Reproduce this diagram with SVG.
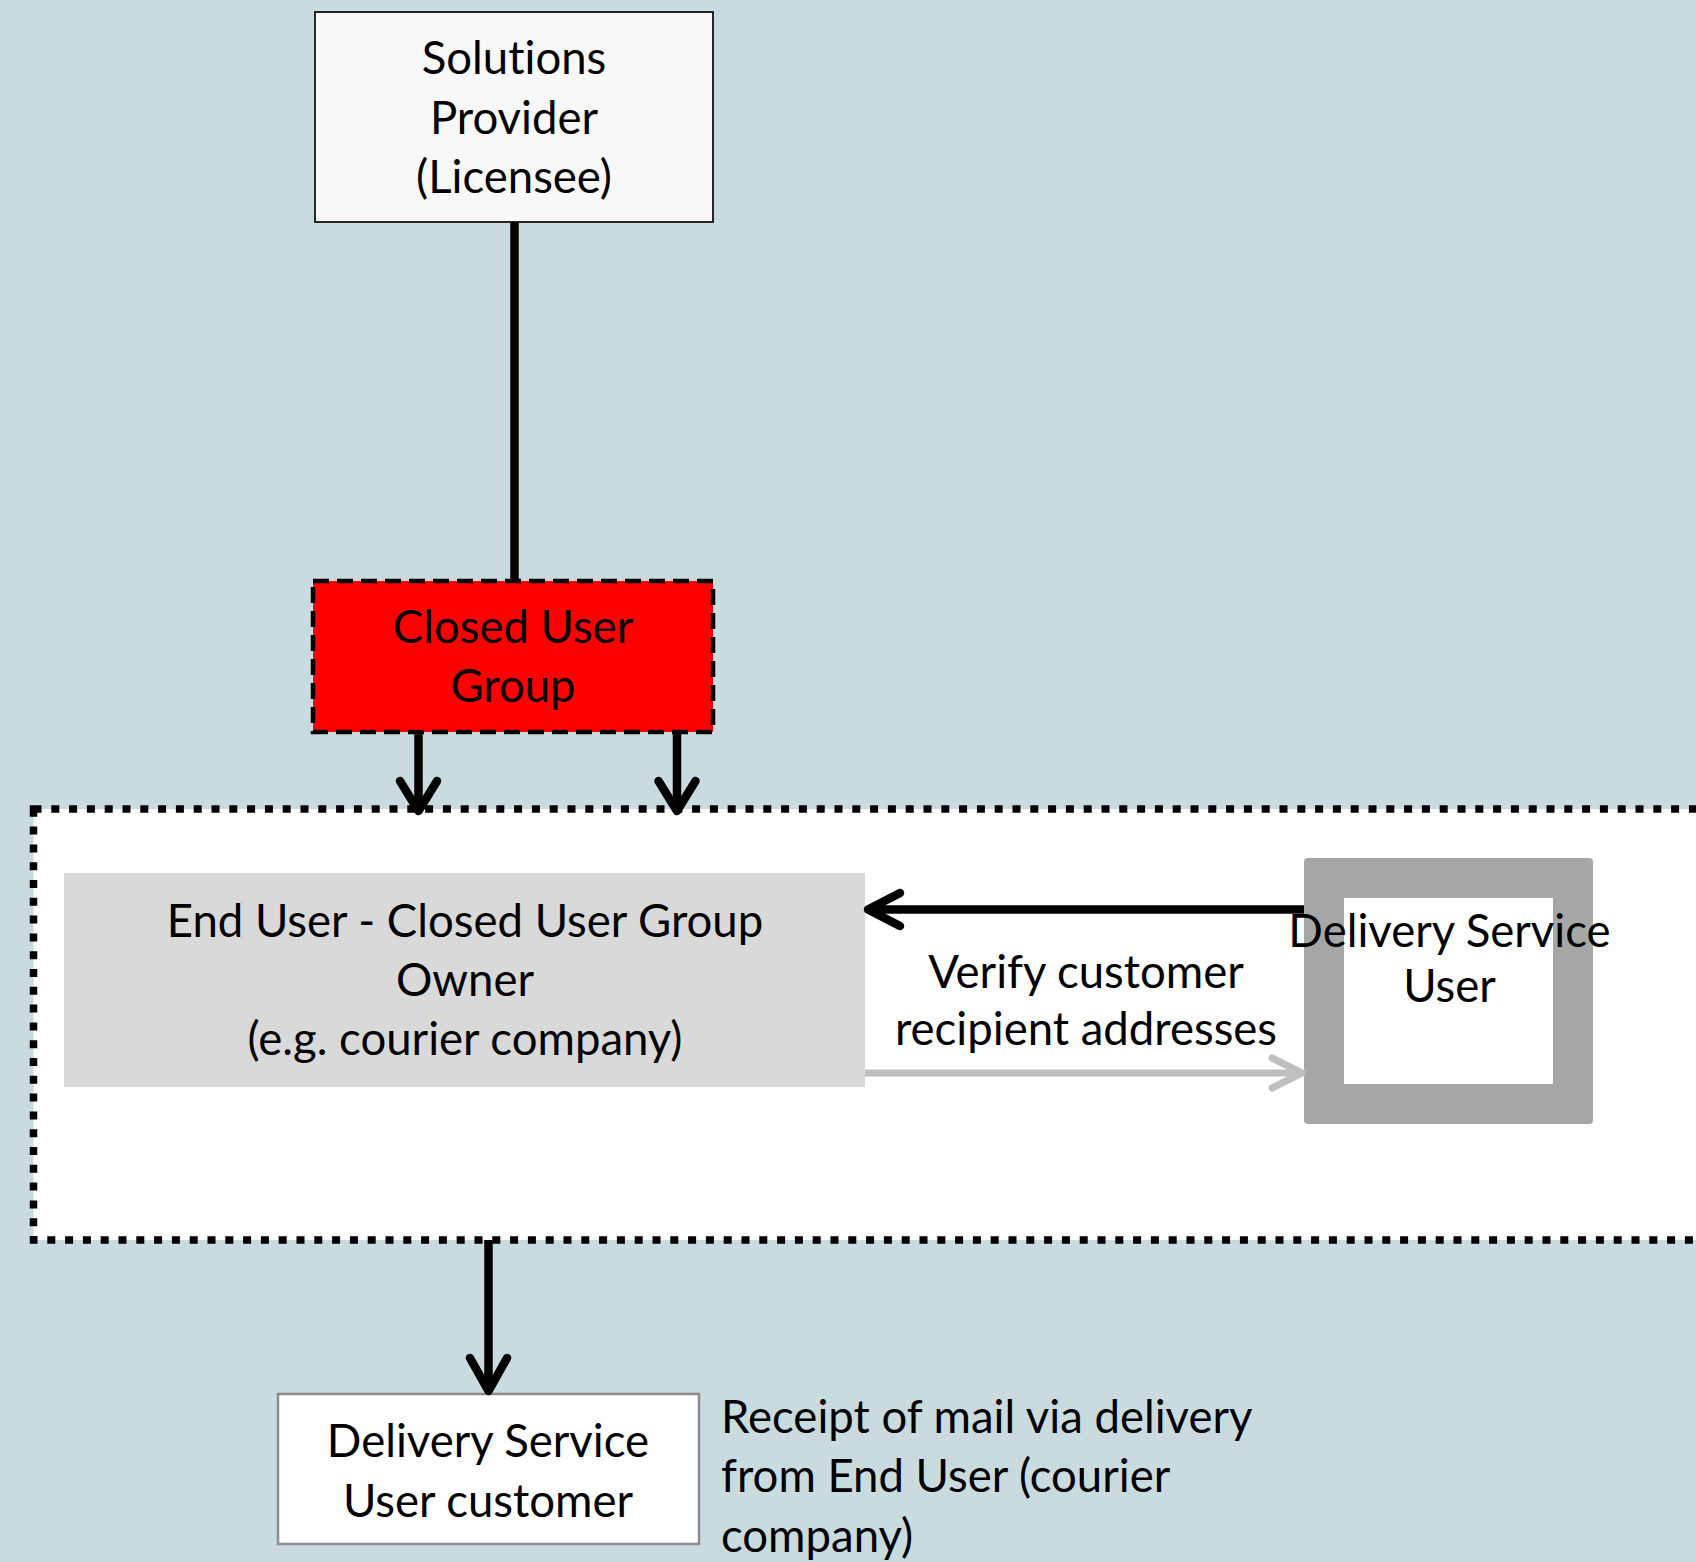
<svg xmlns="http://www.w3.org/2000/svg" width="1696" height="1562" viewBox="0 0 1696 1562">
<style>
.t{font-family:"Lato","Liberation Sans",sans-serif;font-size:45.5px;fill:#000;text-anchor:middle;font-variant-ligatures:none}
.tl{font-family:"Lato","Liberation Sans",sans-serif;font-size:45.5px;fill:#000;text-anchor:start;font-variant-ligatures:none}
.blk{stroke:#000;stroke-width:8.5;fill:none;stroke-linecap:round;stroke-linejoin:round}
.gry{stroke:#bfbfbf;stroke-width:7;fill:none;stroke-linecap:round;stroke-linejoin:round}
</style>
<rect x="0" y="0" width="1696" height="1562" fill="#c9dbdf"/>
<g id="container">
<rect x="33.5" y="809" width="1700" height="431" fill="#ffffff" stroke="#000" stroke-width="7.5" stroke-dasharray="8 9.8"/>
</g>
<g id="solutions-provider">
<rect x="315" y="12" width="398" height="210" fill="#f8f8f8" stroke="#262626" stroke-width="2"/>
<text class="t" x="514" y="74">Solutions</text>
<text class="t" x="514" y="133.5">Provider</text>
<text class="t" x="514" y="193">(Licensee)</text>
</g>
<g id="closed-user-group">
<rect x="313" y="581" width="400" height="151" fill="#ff0000" stroke="#000" stroke-width="4.5" stroke-dasharray="16 8"/>
<text class="t" x="513" y="643">Closed User</text>
<text class="t" x="513" y="702">Group</text>
</g>
<g id="end-user">
<rect x="64" y="873" width="801" height="214" fill="#d9d9d9"/>
<text class="t" x="465" y="937">End User - Closed User Group</text>
<text class="t" x="465" y="996">Owner</text>
<text class="t" x="465" y="1055">(e.g. courier company)</text>
</g>
<g id="delivery-service-user">
<rect x="1304" y="858" width="289" height="266" rx="4" fill="#a6a6a6"/>
<rect x="1344" y="898" width="209" height="186" fill="#ffffff"/>
</g>
<g id="dsu-customer">
<rect x="278" y="1394" width="421" height="150" fill="#ffffff" stroke="#8c8c8c" stroke-width="2.5"/>
<text class="t" x="488" y="1457">Delivery Service</text>
<text class="t" x="488" y="1517">User customer</text>
</g>
<g id="connectors">
<line x1="514.5" y1="222" x2="514.5" y2="581" stroke="#000" stroke-width="8.5"/>
<line x1="418.5" y1="732" x2="418.5" y2="810" stroke="#000" stroke-width="8.5"/>
<polyline class="blk" points="400,781 418.5,811 437,781"/>
<line x1="677" y1="732" x2="677" y2="810" stroke="#000" stroke-width="8.5"/>
<polyline class="blk" points="658.5,781 677,811 695.5,781"/>
<line x1="1304" y1="909.5" x2="870" y2="909.5" stroke="#000" stroke-width="8.5"/>
<polyline class="blk" points="900,893 868,909.5 900,926"/>
<line x1="865" y1="1073" x2="1301" y2="1073" stroke="#bfbfbf" stroke-width="7"/>
<polyline class="gry" points="1272,1058 1302,1073 1272,1088"/>
<line x1="488.5" y1="1240" x2="488.5" y2="1390" stroke="#000" stroke-width="8.5"/>
<polyline class="blk" points="470,1358 488.5,1391 507,1358"/>
</g>
<g id="labels">
<text class="t" x="1449.5" y="947">Delivery Service</text>
<text class="t" x="1449.5" y="1002">User</text>
<text class="t" x="1086" y="988">Verify customer</text>
<text class="t" x="1086" y="1045">recipient addresses</text>
<text class="tl" x="721" y="1433">Receipt of mail via delivery</text>
<text class="tl" x="721" y="1492">from End User (courier</text>
<text class="tl" x="721" y="1552">company)</text>
</g>
</svg>
